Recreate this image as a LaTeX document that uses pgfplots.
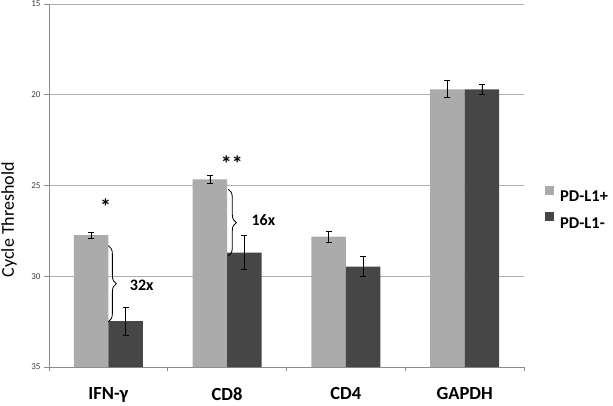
\documentclass[border=0pt]{standalone}
\usepackage{pgfplots}
\pgfplotsset{compat=1.18}
\usepackage{pgfplotstable}
\usepackage{fontspec}
\setmainfont{Carlito}
\usetikzlibrary{decorations.pathreplacing}
\definecolor{lightbar}{HTML}{ABABAB}
\definecolor{darkbar}{HTML}{464646}
\definecolor{gridc}{HTML}{B0B0B0}
\definecolor{axisc}{HTML}{8C8C8C}
\pgfplotstableread{
x ct err
0 27.73 0.17
1 24.66 0.24
2 27.82 0.29
3 19.70 0.47
}\pos
\pgfplotstableread{
x ct err
0 32.47 0.76
1 28.70 0.93
2 29.47 0.56
3 19.70 0.28
}\negt
\begin{document}
\begin{tikzpicture}
\useasboundingbox (-49pt,-38pt) rectangle (564pt,367pt);
\begin{axis}[
  at={(0,0)}, anchor=south west,
  scale only axis, width=475pt, height=363pt,
  xmin=-0.5, xmax=3.5, ymin=0, ymax=20,
  axis x line=bottom, axis y line=left,
  axis line style={-, draw=axisc, line width=0.6pt},
  xtick={0,1,2,3},
  xticklabels={IFN-γ, CD8, CD4, GAPDH},
  xtick style={draw=none},
  xticklabel style={font=\fontsize{18.5}{20}\selectfont\bfseries, yshift=-12pt},
  ytick={0,5,10,15,20},
  yticklabels={35,30,25,20,15},
  ytick style={draw=axisc, line width=0.6pt},
  tick align=outside, major tick length=5pt,
  yticklabel style={font=\fontsize{9}{10}\selectfont, text=black!75},
  /pgf/number format/assume math mode=true,
  ymajorgrids, grid style={draw=gridc, line width=0.6pt},
  ylabel={Cycle Threshold},
  every axis y label/.style={at={(axis description cs:0,0.406)}, xshift=-40pt, rotate=90, anchor=center, font=\fontsize{18}{20}\selectfont},
  ybar=0pt, bar width=34.5pt,
  clip=false,
  legend style={draw=none, fill=none, at={(axis description cs:1,0.5)}, anchor=north west, xshift=21pt, inner sep=0pt, row sep=8pt, font=\fontsize{16.5}{18}\selectfont\bfseries, nodes={inner sep=1pt}, /tikz/every odd column/.append style={column sep=5pt}},
  legend cell align=left,
  legend image code/.code={\fill[#1] (0pt,2.4pt) rectangle (9pt,11.4pt);},
  error bars/y dir=both, error bars/y explicit,
  error bars/error bar style={black, line width=0.7pt},
  error bars/error mark options={rotate=90, mark size=3pt, black, line width=0.7pt},
]
\addplot[fill=lightbar, draw=none] table[x=x, y expr={35-\thisrow{ct}}, y error=err] {\pos};
\addplot[fill=darkbar, draw=none] table[x=x, y expr={35-\thisrow{ct}}, y error=err] {\negt};
\legend{PD-L1+, PD-L1-}
\pgfplotsinvokeforeach{-0.5,0.5,1.5,2.5,3.5}{
  \draw[axisc, line width=0.6pt] (axis cs:#1,0) -- ++(0pt,-4pt);
}
\draw[decorate, decoration={brace, amplitude=8pt}, line width=0.8pt] (axis cs:0,6.68) -- (axis cs:0,2.5);
\draw[decorate, decoration={brace, amplitude=8pt}, line width=0.8pt] (axis cs:1.01,9.79) -- (axis cs:1.01,6.12);
\node[font=\fontsize{16}{18}\selectfont\bfseries] at (axis cs:0.281,4.52) {32x};
\node[font=\fontsize{16}{18}\selectfont\bfseries] at (axis cs:1.305,8.10) {16x};
\node[font=\fontsize{22}{24}\selectfont\bfseries] at (axis cs:-0.0225,8.85) {*};
\node[font=\fontsize{22}{24}\selectfont\bfseries] at (axis cs:1.039,11.2) {**};
\end{axis}
\end{tikzpicture}
\end{document}
